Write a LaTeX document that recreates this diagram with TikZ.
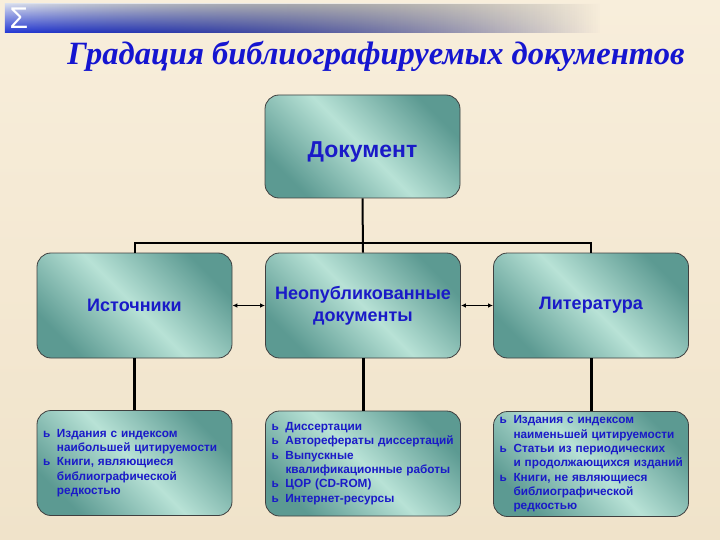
\documentclass[tikz,border=0pt]{standalone}
\usepackage{fontspec}
\setmainfont{Liberation Sans}
\newfontfamily\titlefont{Liberation Serif}
\usepackage{xcolor}
\usepackage{tikz}
\usetikzlibrary{arrows.meta,positioning,fadings}

\definecolor{bgtop}{HTML}{F8EEDB}
\definecolor{bgbottom}{HTML}{F0E3CA}
\definecolor{boxdark}{HTML}{5C9A92}
\definecolor{boxlight}{HTML}{B8E2D6}
\definecolor{boxtext}{HTML}{1A1AC8}
\definecolor{titleblue}{HTML}{1515D0}
\definecolor{bandblue}{HTML}{2236D6}
\definecolor{bandlight}{HTML}{D6DCEE}

\tikzfading[name=bandfade, left color=transparent!0, middle color=transparent!40, right color=transparent!100]

\newcommand{\bul}{\leavevmode\llap{\makebox[14pt][l]{ь}}}
\newcommand{\listsetup}{\leftskip=20pt\rightskip=-20pt plus 1fil}

\begin{document}
\begin{tikzpicture}[
    x=1pt, y=-1pt,
    box/.style={draw=black!75, line width=0.8pt, rounded corners=14pt, minimum width=195pt, minimum height=105pt,
      left color=boxdark, right color=boxdark, middle color=boxlight, shading angle=135,
      text=boxtext, align=center, font=\bfseries\fontsize{18}{22}\selectfont},
    itembox/.style={box, text width=195pt, inner xsep=0pt, align=left, font=\bfseries\fontsize{11.8}{14.3}\selectfont},
    trunk/.style={line width=2pt},
    drop/.style={line width=3pt},
    link/.style={{Latex[length=5pt,width=4.5pt]}-{Latex[length=5pt,width=4.5pt]}, line width=1.5pt}
  ]
    \useasboundingbox (0,0) rectangle (720,540);
    \shade[top color=bgtop, bottom color=bgbottom] (0,0) rectangle (720,540);
    \fill[top color=bandlight, bottom color=bandblue, path fading=bandfade] (5,4) rectangle (600,33);
    \node[text=white, font=\fontsize{30}{30}\selectfont] (sigma) at (19,18) {Σ};
    \node[text=titleblue, font=\titlefont\bfseries\itshape\fontsize{32.5}{36}\selectfont] (title) at (376,56)
      {Градация библиографируемых документов};

    \node[box, minimum height=103pt, text height=28pt, text depth=5pt, font=\bfseries\fontsize{23}{26}\selectfont]
      (doc) at (362.5,146.5) {Документ};

    \node[box] (src) at (134.5,305.5) {Источники};
    \node[box] (unpub) at (363,305.5) {Неопубликованные\\документы};
    \node[box] (lit) at (591,305.5) {Литература};

    \node[itembox] (src-list) at (134.5,463) {\listsetup
      \bul Издания с индексом\\
      наибольшей цитируемости\\
      \bul Книги, являющиеся\\
      библиографической\\
      редкостью\par};
    \node[itembox] (unpub-list) at (363,463.5) {\listsetup
      \bul Диссертации\\
      \bul Авторефераты диссертаций\\
      \bul Выпускные\\
      квалификационные работы\\
      \bul ЦОР (CD-ROM)\\
      \bul Интернет-ресурсы\par};
    \node[itembox] (lit-list) at (591,464) {\listsetup
      \bul Издания с индексом\\
      наименьшей цитируемости\\
      \bul Статьи из периодических\\
      и продолжающихся изданий\\
      \bul Книги, не являющиеся\\
      библиографической\\
      редкостью\par};

    \coordinate (bus) at (362.5,243);
    \draw[trunk] (doc.south) -- (unpub.north);
    \draw[trunk] (src.north) |- (bus) -| (lit.north);
    \foreach \n in {src,unpub,lit} {
      \draw[drop] (\n.south) -- (\n-list.north);
    }
    \draw[link] (src.east) -- (unpub.west);
    \draw[link] (unpub.east) -- (lit.west);
  \end{tikzpicture}
\end{document}
